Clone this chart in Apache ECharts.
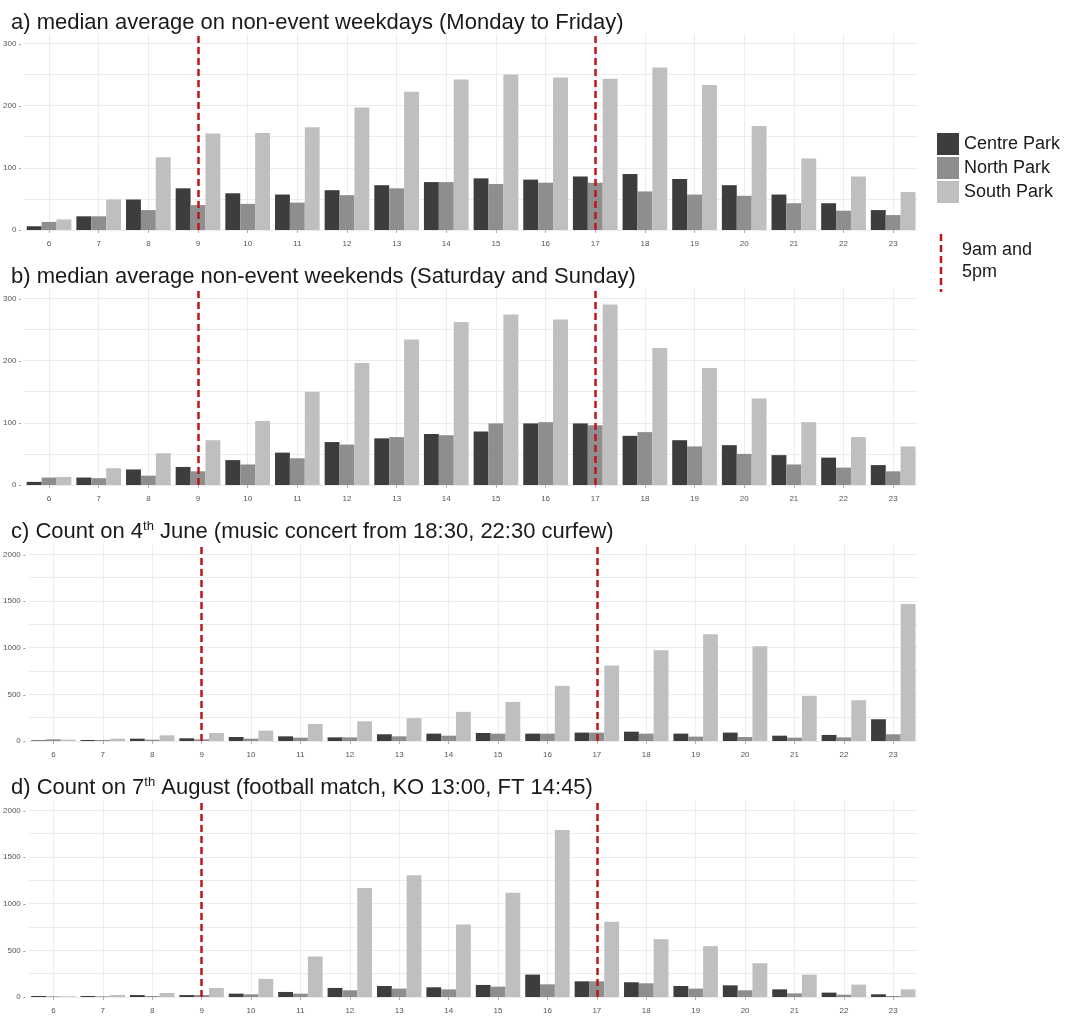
<!DOCTYPE html>
<html>
<head>
<meta charset="utf-8">
<script src="https://cdn.jsdelivr.net/npm/echarts@6/dist/echarts.min.js"></script>
<style>
	html,body{margin:0;padding:0;background:#fff;}
	#chart{width:1074px;height:1021px;}
</style>
</head>
<body>
<div id="chart"></div>
<script>
var hours = ['6','7','8','9','10','11','12','13','14','15','16','17','18','19','20','21','22','23'];
var parkNames = ['Centre Park','North Park','South Park'];
var markHours = ['9','17'];

// a) weekdays
var weekdayCentre = [6, 22, 49, 67, 59, 57, 64, 72, 77, 83, 81, 86, 90, 82, 72, 57, 43, 32];
var weekdayNorth  = [13, 22, 32, 40, 42, 44, 56, 67, 77, 74, 76, 76, 62, 57, 55, 43, 31, 24];
var weekdaySouth  = [17, 49, 117, 155, 156, 165, 197, 222, 242, 250, 245, 243, 261, 233, 167, 115, 86, 61];

// b) weekends
var weekendCentre = [5, 12, 25, 29, 40, 52, 69, 75, 82, 86, 99, 99, 79, 72, 64, 48, 44, 32];
var weekendNorth  = [12, 11, 15, 22, 33, 43, 65, 77, 80, 99, 101, 96, 85, 62, 50, 33, 28, 22];
var weekendSouth  = [13, 27, 51, 72, 103, 150, 196, 234, 262, 274, 266, 290, 220, 188, 139, 101, 77, 62];

// c) 4th June
var juneCentre = [7, 11, 25, 29, 43, 50, 39, 72, 79, 86, 79, 90, 100, 79, 90, 57, 65, 233];
var juneNorth  = [18, 11, 14, 18, 25, 36, 39, 50, 57, 79, 79, 90, 79, 47, 43, 36, 39, 72];
var juneSouth  = [14, 25, 61, 86, 111, 183, 211, 244, 312, 419, 591, 810, 971, 1143, 1014, 484, 437, 1469];

// d) 7th August
var augustCentre = [11, 11, 21, 21, 36, 54, 97, 118, 104, 129, 240, 168, 158, 118, 125, 82, 47, 29];
var augustNorth  = [7, 7, 11, 21, 29, 36, 72, 90, 82, 111, 136, 168, 147, 90, 72, 39, 25, 11];
var augustSouth  = [7, 21, 43, 97, 194, 434, 1168, 1305, 778, 1118, 1788, 806, 620, 545, 362, 240, 133, 82];

var colors = ['#3d3d3d','#8e8e8e','#bfbfbf'];
var font = 'Liberation Sans, Arial, sans-serif';

var panels = [
	{title:'{n|a) median average on non-event weekdays (Monday to Friday)}', titleTop:6, top:34, height:196, left:23, max:315, step:50, labelStep:100,
		data:[weekdayCentre, weekdayNorth, weekdaySouth]},
	{title:'{n|b) median average non-event weekends (Saturday and Sunday)}', titleTop:260, top:289, height:196, left:23, max:315, step:50, labelStep:100,
		data:[weekendCentre, weekendNorth, weekendSouth]},
	{title:'{n|c) Count on 4}{s|th}{n| June (music concert from 18:30, 22:30 curfew)}', titleTop:515, top:545, height:196, left:28, max:2100, step:250, labelStep:500,
		data:[juneCentre, juneNorth, juneSouth]},
	{title:'{n|d) Count on 7}{s|th}{n| August (football match, KO 13:00, FT 14:45)}', titleTop:771, top:801, height:196, left:28, max:2100, step:250, labelStep:500,
		data:[augustCentre, augustNorth, augustSouth]}
];

var titles = [], grids = [], xAxes = [], yAxes = [], series = [];

panels.forEach(function(p, i){
	titles.push({
		text:p.title,
		left:6,
		top:p.titleTop,
		textStyle:{
			fontWeight:'normal',
			rich:{
				n:{fontSize:22, fontWeight:'normal', color:'#1a1a1a', fontFamily:font, lineHeight:24},
				s:{fontSize:13, fontWeight:'normal', color:'#1a1a1a', fontFamily:font, verticalAlign:'top', lineHeight:14}
			}
		}
	});
	grids.push({left:p.left, right:156, top:p.top, height:p.height});
	xAxes.push({
		type:'category',
		gridIndex:i,
		data:hours,
		axisLine:{show:false},
		axisTick:{show:true, alignWithLabel:true, length:3, lineStyle:{color:'#b0b0b0'}},
		axisLabel:{interval:0, fontSize:8, color:'#555', fontFamily:font, margin:10},
		splitLine:{show:true, interval:0, alignWithLabel:true, lineStyle:{color:'#ececec', width:1}}
	});
	yAxes.push({
		type:'value',
		gridIndex:i,
		min:0,
		max:p.max,
		interval:p.step,
		axisLine:{show:false},
		axisTick:{show:false},
		axisLabel:{
			fontSize:8, color:'#555', fontFamily:font, margin:3, showMaxLabel:false,
			formatter:function(v){ return v % p.labelStep === 0 ? String(v) + ' -' : ''; }
		},
		splitLine:{show:true, showMaxLine:false, lineStyle:{color:'#ececec', width:1}}
	});
	p.data.forEach(function(vals, k){
		var s = {
			name:parkNames[k],
			type:'bar',
			xAxisIndex:i,
			yAxisIndex:i,
			data:vals,
			barGap:'0%',
			barCategoryGap:'10%',
			itemStyle:{color:colors[k]},
			z:2
		};
		// middle bar sits on the category centre, so the hour lines go on it
		if(k === 1){
			s.markLine = {
				silent:true,
				symbol:['none','none'],
				label:{show:false},
				z:5,
				lineStyle:{color:'#c0151b', type:[7,4], width:2.5},
				data:markHours.map(function(h){ return {xAxis:h}; })
			};
		}
		series.push(s);
	});
});

var myChart = echarts.init(document.getElementById('chart'), null, {renderer:'canvas'});
var option = {
	backgroundColor:'#fff',
	animation:false,
	title:titles,
	legend:{
		data:parkNames,
		orient:'vertical',
		left:932,
		top:128,
		icon:'rect',
		itemWidth:22,
		itemHeight:22,
		itemGap:2,
		textStyle:{fontSize:18, color:'#1a1a1a', fontFamily:font}
	},
	graphic:[
		{type:'line', shape:{x1:941, y1:234, x2:941, y2:292}, style:{stroke:'#c0151b', lineWidth:2.5, lineDash:[7,4]}},
		{type:'text', left:962, top:239, style:{text:'9am and\n5pm', fontSize:18, lineHeight:22, fill:'#1a1a1a', fontFamily:font}}
	],
	grid:grids,
	xAxis:xAxes,
	yAxis:yAxes,
	series:series
};
myChart.setOption(option);
</script>
</body>
</html>
